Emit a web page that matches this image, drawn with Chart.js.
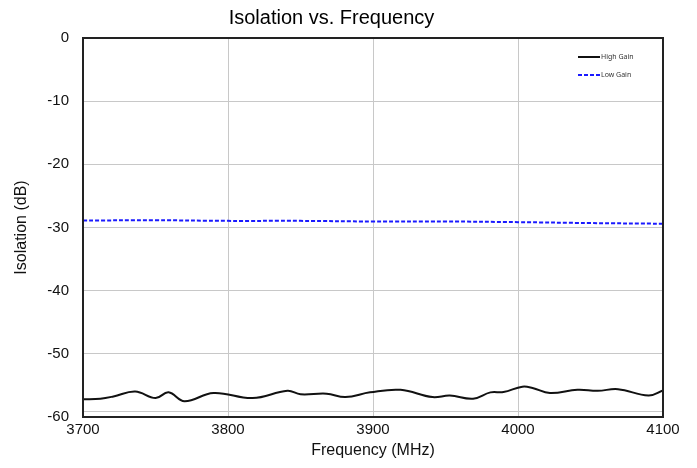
<!DOCTYPE html>
<html>
<head>
<meta charset="utf-8">
<script src="https://cdn.jsdelivr.net/npm/chart.js@4"></script>
<style>
    html, body { margin: 0; padding: 0; background: #fff; }
    #wrap { width: 697px; height: 468px; }
</style>
</head>
<body>
<div id="wrap"><canvas id="chart" width="697" height="468"></canvas></div>
<script>
// ---- data ----
const highFreqs = [3700, 3712, 3721, 3736, 3750, 3759, 3770, 3790, 3817, 3841, 3850, 3868, 3881, 3898, 3919, 3941, 3953, 3969, 3981, 3990, 4003, 4010, 4022, 4041, 4055, 4069, 4090, 4100];
const highGain = [-57.2, -57.1, -56.75, -55.96, -57.0, -56.1, -57.5, -56.2, -57.0, -55.85, -56.4, -56.3, -56.85, -56.1, -55.7, -56.85, -56.6, -57.1, -56.1, -56.05, -55.2, -55.4, -56.2, -55.7, -55.85, -55.6, -56.6, -55.8];

const lowFreqs = [3700, 3750, 3800, 3850, 3900, 3950, 4000, 4050, 4100];
const lowGain = [-28.9, -28.85, -28.95, -28.95, -29.05, -29.05, -29.15, -29.3, -29.4];

const xTicks = [3700, 3800, 3900, 4000, 4100];
const yTicks = [0, -10, -20, -30, -40, -50, -60];
const extraGridValue = -59; // faint extra line just above the bottom axis

const toPoints = (xs, ys) => xs.map((x, i) => ({ x, y: ys[i] }));

// extra grid line, frame round the plot, small legend in the top right corner
const framePlugin = {
    id: "frame",
    beforeDatasetsDraw(chart) {
        const { ctx, chartArea: a, scales } = chart;
        const y = Math.round(scales.y.getPixelForValue(extraGridValue)) + 0.5;
        ctx.save();
        ctx.strokeStyle = "#c8c8c8";
        ctx.lineWidth = 1;
        ctx.beginPath();
        ctx.moveTo(a.left, y);
        ctx.lineTo(a.right, y);
        ctx.stroke();
        ctx.restore();
    },
    afterDraw(chart) {
        const { ctx, chartArea: a } = chart;
        ctx.save();
        ctx.strokeStyle = "#222";
        ctx.lineWidth = 2;
        ctx.strokeRect(a.left, a.top, a.right - a.left, a.bottom - a.top);

        ctx.font = "7px 'Noto Sans'";
        ctx.textBaseline = "middle";
        ctx.fillStyle = "#333";
        chart.data.datasets.forEach((ds, i) => {
            const y = a.top + 19 + i * 18;
            const x0 = a.right - 85;
            ctx.beginPath();
            ctx.setLineDash(ds.borderDash || []);
            ctx.strokeStyle = ds.borderColor;
            ctx.lineWidth = ds.borderWidth;
            ctx.moveTo(x0, y);
            ctx.lineTo(x0 + 22, y);
            ctx.stroke();
            ctx.setLineDash([]);
            ctx.fillText(ds.label, x0 + 23, y);
        });
        ctx.restore();
    }
};

const font = "'Liberation Sans', Arial, sans-serif";

new Chart(document.getElementById("chart"), {
    type: "line",
    data: {
        datasets: [
            {
                label: "High Gain",
                data: toPoints(highFreqs, highGain),
                borderColor: "#111",
                borderWidth: 2,
                pointRadius: 0,
                tension: 0.4
            },
            {
                label: "Low Gain",
                data: toPoints(lowFreqs, lowGain),
                borderColor: "#1a1aff",
                borderWidth: 2,
                borderDash: [4, 2],
                pointRadius: 0,
                tension: 0.4
            }
        ]
    },
    options: {
        responsive: false,
        animation: false,
        layout: { padding: { left: 0, right: 34, top: 0, bottom: 0 } },
        plugins: {
            legend: { display: false },
            tooltip: { enabled: false },
            title: {
                display: true,
                text: "Isolation vs. Frequency",
                color: "#000",
                font: { family: font, size: 20, weight: "normal" },
                padding: { top: 6, bottom: 8 }
            }
        },
        scales: {
            x: {
                type: "linear",
                min: 3700,
                max: 4100,
                afterBuildTicks: s => { s.ticks = xTicks.map(v => ({ value: v })); },
                afterFit: s => { s.height = 51; },
                ticks: {
                    color: "#111",
                    font: { family: font, size: 15 },
                    padding: 4,
                    maxRotation: 0,
                    callback: v => String(v)
                },
                grid: { color: "#c8c8c8", lineWidth: 1, drawTicks: false },
                border: { color: "#222", width: 2 },
                title: {
                    display: true,
                    text: "Frequency (MHz)",
                    color: "#111",
                    font: { family: font, size: 16 },
                    padding: { top: 0, bottom: 8 }
                }
            },
            y: {
                min: -60,
                max: 0,
                afterBuildTicks: s => { s.ticks = yTicks.map(v => ({ value: v })); },
                afterFit: s => { s.width = 83; },
                ticks: {
                    color: "#111",
                    font: { family: font, size: 15 },
                    padding: 14,
                    autoSkip: false,
                    callback: v => String(v)
                },
                grid: { color: "#c8c8c8", lineWidth: 1, drawTicks: false },
                border: { color: "#222", width: 2 },
                title: {
                    display: true,
                    text: "Isolation (dB)",
                    color: "#111",
                    font: { family: font, size: 16 },
                    padding: { top: 12, bottom: 4 }
                }
            }
        }
    },
    plugins: [framePlugin]
});
</script>
</body>
</html>
